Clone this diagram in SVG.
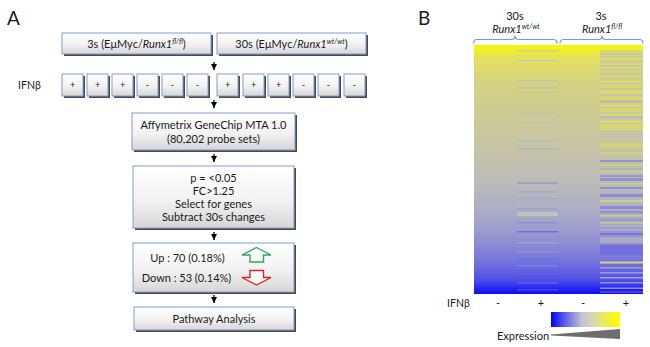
<svg xmlns="http://www.w3.org/2000/svg" width="650" height="347" viewBox="0 0 650 347">
<defs>
  <linearGradient id="boxfill" x1="0" y1="0" x2="0" y2="1">
    <stop offset="0" stop-color="#ffffff"/>
    <stop offset="0.55" stop-color="#f2f2f2"/>
    <stop offset="1" stop-color="#d6d6d6"/>
  </linearGradient>
  <linearGradient id="heat" x1="0" y1="0" x2="0" y2="1">
    <stop offset="0" stop-color="#f8f800"/>
    <stop offset="0.05" stop-color="#e4e25c"/>
    <stop offset="0.15" stop-color="#d4d282"/>
    <stop offset="0.35" stop-color="#c9c89e"/>
    <stop offset="0.55" stop-color="#bcbcb8"/>
    <stop offset="0.68" stop-color="#aaaac8"/>
    <stop offset="0.76" stop-color="#9898d0"/>
    <stop offset="0.86" stop-color="#7878da"/>
    <stop offset="0.94" stop-color="#5252e6"/>
    <stop offset="1" stop-color="#0c0cf8"/>
  </linearGradient>
  <linearGradient id="bar" x1="0" y1="0" x2="1" y2="0">
    <stop offset="0" stop-color="#0000ff"/>
    <stop offset="0.15" stop-color="#4848f0"/>
    <stop offset="0.45" stop-color="#c4c4d4"/>
    <stop offset="0.62" stop-color="#d8d8b0"/>
    <stop offset="0.85" stop-color="#f2f230"/>
    <stop offset="1" stop-color="#ffff00"/>
  </linearGradient>
  <marker id="ah" viewBox="0 0 6 6" refX="6" refY="3" markerWidth="6" markerHeight="6" markerUnits="userSpaceOnUse" orient="auto">
    <path d="M0,0 L6,3 L0,6 Z" fill="#000"/>
  </marker>
</defs>
<style>
  text { font-family: Lato, "Open Sans", "Liberation Sans", sans-serif; fill: #1a1a1a; }
  .t { font-size: 11px; text-anchor: middle; }
  .pm { font-size: 9px; text-anchor: middle; }
  .lbl { font-size: 19px; }
  .it { font-style: italic; }
  .sup { font-size: 7px; font-style: italic; }
  .sh { fill: #4a4a4a; }
  .bx { fill: url(#boxfill); stroke: #7f9fcf; stroke-width: 1; }
  .conn { stroke: #000; stroke-width: 1.3; fill: none; }
  .brk { stroke: #7a9ad6; stroke-width: 1.2; fill: none; }
</style>

<text class="lbl" x="7" y="25">A</text>
<text class="lbl" x="418" y="25">B</text>

<g id="connectors">
  <line class="conn" x1="214" y1="62" x2="214" y2="70" marker-end="url(#ah)"/>
  <line class="conn" x1="214" y1="100" x2="214" y2="108" marker-end="url(#ah)"/>
  <line class="conn" x1="214" y1="154" x2="214" y2="162" marker-end="url(#ah)"/>
  <line class="conn" x1="214" y1="232" x2="214" y2="240" marker-end="url(#ah)"/>
  <line class="conn" x1="214" y1="295" x2="214" y2="303" marker-end="url(#ah)"/>
</g>

<g id="box3s">
  <rect class="sh" x="64" y="35" width="149" height="21"/>
  <rect class="bx" x="62" y="33" width="149" height="21"/>
  <text class="t" x="136.5" y="47.5">3s (EμMyc/<tspan class="it">Runx1</tspan><tspan class="sup" dy="-4">fl/fl</tspan><tspan dy="4">)</tspan></text>
</g>
<g id="box30s">
  <rect class="sh" x="219" y="35" width="149" height="21"/>
  <rect class="bx" x="217" y="33" width="149" height="21"/>
  <text class="t" x="291.5" y="47.5">30s (EμMyc/<tspan class="it">Runx1</tspan><tspan class="sup" dy="-4">wt/wt</tspan><tspan dy="4">)</tspan></text>
</g>

<text x="18" y="89" style="font-size:10.5px">IFNβ</text>

<g id="ifn-row">
  <g id="s1"><rect class="sh" x="64" y="76" width="21" height="22"/><rect class="bx" x="62" y="74" width="21" height="22"/><text class="pm" x="72.5" y="88">+</text></g>
  <g id="s2"><rect class="sh" x="89" y="76" width="21" height="22"/><rect class="bx" x="87" y="74" width="21" height="22"/><text class="pm" x="97.5" y="88">+</text></g>
  <g id="s3"><rect class="sh" x="114" y="76" width="21" height="22"/><rect class="bx" x="112" y="74" width="21" height="22"/><text class="pm" x="122.5" y="88">+</text></g>
  <g id="s4"><rect class="sh" x="139" y="76" width="21" height="22"/><rect class="bx" x="137" y="74" width="21" height="22"/><text class="pm" x="147.5" y="88">-</text></g>
  <g id="s5"><rect class="sh" x="164" y="76" width="21" height="22"/><rect class="bx" x="162" y="74" width="21" height="22"/><text class="pm" x="172.5" y="88">-</text></g>
  <g id="s6"><rect class="sh" x="189" y="76" width="21" height="22"/><rect class="bx" x="187" y="74" width="21" height="22"/><text class="pm" x="197.5" y="88">-</text></g>
  <g id="s7"><rect class="sh" x="219" y="76" width="21" height="22"/><rect class="bx" x="217" y="74" width="21" height="22"/><text class="pm" x="227.5" y="88">+</text></g>
  <g id="s8"><rect class="sh" x="245" y="76" width="21" height="22"/><rect class="bx" x="243" y="74" width="21" height="22"/><text class="pm" x="253.5" y="88">+</text></g>
  <g id="s9"><rect class="sh" x="270" y="76" width="21" height="22"/><rect class="bx" x="268" y="74" width="21" height="22"/><text class="pm" x="278.5" y="88">+</text></g>
  <g id="s10"><rect class="sh" x="295" y="76" width="21" height="22"/><rect class="bx" x="293" y="74" width="21" height="22"/><text class="pm" x="303.5" y="88">-</text></g>
  <g id="s11"><rect class="sh" x="320" y="76" width="21" height="22"/><rect class="bx" x="318" y="74" width="21" height="22"/><text class="pm" x="328.5" y="88">-</text></g>
  <g id="s12"><rect class="sh" x="346" y="76" width="21" height="22"/><rect class="bx" x="344" y="74" width="21" height="22"/><text class="pm" x="354.5" y="88">-</text></g>
</g>

<g id="affy">
  <rect class="sh" x="134" y="115" width="163" height="37"/>
  <rect class="bx" x="132" y="113" width="163" height="37"/>
  <text class="t" x="213.5" y="129">Affymetrix GeneChip MTA 1.0</text>
  <text class="t" x="213.5" y="143">(80,202 probe sets)</text>
</g>

<g id="filter">
  <rect class="sh" x="135" y="168" width="161" height="62"/>
  <rect class="bx" x="133" y="166" width="161" height="62"/>
  <text class="t" x="213.5" y="182">p = &lt;0.05</text>
  <text class="t" x="213.5" y="195">FC&gt;1.25</text>
  <text class="t" x="213.5" y="208">Select for genes</text>
  <text class="t" x="213.5" y="221">Subtract 30s changes</text>
</g>

<g id="updown">
  <rect class="sh" x="135" y="245" width="161" height="49"/>
  <rect class="bx" x="133" y="243" width="161" height="49"/>
  <text class="t" x="187.5" y="262">Up : 70 (0.18%)</text>
  <text class="t" x="186.5" y="282">Down : 53 (0.14%)</text>
  <path d="M256.5,247.5 L271,255 L263.5,255 L263.5,262 L250,262 L250,255 L242,255 Z" fill="#fff" stroke="#2fa85a" stroke-width="1.4" stroke-linejoin="miter"/>
  <path d="M250,270.5 L263.5,270.5 L263.5,277.5 L271,277.5 L256.5,285 L242,277.5 L250,277.5 Z" fill="#fff" stroke="#e02424" stroke-width="1.4" stroke-linejoin="miter"/>
</g>

<g id="pathway">
  <rect class="sh" x="136" y="309" width="160" height="23"/>
  <rect class="bx" x="134" y="307" width="160" height="23"/>
  <text class="t" x="214" y="322.5">Pathway Analysis</text>
</g>

<!-- Panel B -->
<g id="header-30s">
  <text class="t" x="515" y="20">30s</text>
  <text class="t" x="516" y="33"><tspan class="it">Runx1</tspan><tspan class="sup" dy="-4">wt/wt</tspan></text>
  <path class="brk" d="M473.5,43.5 Q473.5,39.5 477,39.5 L511.5,39.5 Q515,39.5 515,35.5 Q515,39.5 518.5,39.5 L553.5,39.5 Q557,39.5 557,43.5"/>
</g>
<g id="header-3s">
  <text class="t" x="601" y="20">3s</text>
  <text class="t" x="602" y="33"><tspan class="it">Runx1</tspan><tspan class="sup" dy="-4">fl/fl</tspan></text>
  <path class="brk" d="M560,43.5 Q560,39.5 563.5,39.5 L598.5,39.5 Q602,39.5 602,35.5 Q602,39.5 605.5,39.5 L639.5,39.5 Q643,39.5 643,43.5"/>
</g>

<g id="heatmap">
  <rect x="474" y="45" width="169" height="249" fill="url(#heat)"/>
  <g id="col2">
    <rect x="517" y="50" width="41" height="1.5" fill="#d0cf96"/>
    <rect x="517" y="60" width="41" height="1.5" fill="#cbcb9e"/>
    <rect x="517" y="80" width="41" height="1.5" fill="#c4c4a8"/>
    <rect x="517" y="87" width="41" height="1.5" fill="#c6c6a6"/>
    <rect x="517" y="112" width="41" height="1.5" fill="#c2c2b0"/>
    <rect x="517" y="122" width="41" height="1.5" fill="#c2c2b0"/>
    <rect x="517" y="140" width="41" height="1.5" fill="#babac0"/>
    <rect x="517" y="148" width="41" height="1.5" fill="#b2b2c6"/>
    <rect x="517" y="157" width="41" height="1.5" fill="#c4c4b6"/>
    <rect x="517" y="182" width="41" height="2" fill="#a0a0d0"/>
    <rect x="517" y="191" width="41" height="1.5" fill="#aaaaca"/>
    <rect x="517" y="198" width="41" height="1.5" fill="#a8a8ca"/>
    <rect x="517" y="203" width="41" height="1.5" fill="#b4b4c4"/>
    <rect x="517" y="208" width="41" height="1.5" fill="#a2a2ce"/>
    <rect x="517" y="212" width="41" height="4" fill="#c2c2bc"/>
    <rect x="517" y="222" width="41" height="1.5" fill="#9090d2"/>
    <rect x="517" y="231" width="41" height="1.5" fill="#7070d8"/>
    <rect x="517" y="242" width="41" height="1.5" fill="#a0a0d4"/>
    <rect x="517" y="251" width="41" height="1.5" fill="#9090d6"/>
    <rect x="517" y="258" width="41" height="1.5" fill="#7272de"/>
    <rect x="517" y="265" width="41" height="1.5" fill="#8080de"/>
    <rect x="517" y="273" width="41" height="1.5" fill="#6060e6"/>
    <rect x="517" y="282" width="41" height="1.5" fill="#5e5ee6"/>
    <rect x="517" y="289" width="41" height="1.5" fill="#4444ee"/>
  </g>
  <g id="col4">
    <rect x="600" y="50" width="43" height="78" fill="#d8d86e"/>
    <rect x="600" y="53" width="43" height="1.5" fill="#c4c4b0"/>
    <rect x="600" y="56" width="43" height="1.5" fill="#c4c4b0"/>
    <rect x="600" y="61" width="43" height="1.5" fill="#c4c4b0"/>
    <rect x="600" y="65" width="43" height="1.5" fill="#c4c4b0"/>
    <rect x="600" y="69" width="43" height="1.5" fill="#c4c4b0"/>
    <rect x="600" y="73" width="43" height="2" fill="#c4c4b0"/>
    <rect x="600" y="78" width="43" height="1.5" fill="#c4c4b0"/>
    <rect x="600" y="83" width="43" height="1.5" fill="#c4c4b0"/>
    <rect x="600" y="88" width="43" height="1.5" fill="#c4c4b0"/>
    <rect x="600" y="94" width="43" height="2" fill="#c4c4b0"/>
    <rect x="600" y="100" width="43" height="3" fill="#bebeb8"/>
    <rect x="600" y="107" width="43" height="1.5" fill="#c4c4b0"/>
    <rect x="600" y="112" width="43" height="1.5" fill="#c4c4b0"/>
    <rect x="600" y="116" width="43" height="3.5" fill="#bcbcbc"/>
    <rect x="600" y="123" width="43" height="1.5" fill="#c4c4b0"/>
    <rect x="600" y="128" width="43" height="2" fill="#d6d672"/>
    <rect x="600" y="133" width="43" height="1.5" fill="#c0c0b4"/>
    <rect x="600" y="136" width="43" height="1.5" fill="#c0c0b4"/>
    <rect x="600" y="143" width="43" height="4.5" fill="#d4d476"/>
    <rect x="600" y="152" width="43" height="2" fill="#d2d27a"/>
    <rect x="600" y="160" width="43" height="2" fill="#9494d4"/>
    <rect x="600" y="164" width="43" height="2" fill="#d0d07c"/>
    <rect x="600" y="168" width="43" height="1.5" fill="#b0b0c4"/>
    <rect x="600" y="171" width="43" height="1.5" fill="#cccc84"/>
    <rect x="600" y="175" width="43" height="2" fill="#9898d2"/>
    <rect x="600" y="178" width="43" height="3" fill="#9090d4"/>
    <rect x="600" y="183" width="43" height="1.5" fill="#cccc84"/>
    <rect x="600" y="187" width="43" height="2" fill="#9090d4"/>
    <rect x="600" y="191" width="43" height="1.5" fill="#b4b4c0"/>
    <rect x="600" y="194" width="43" height="3" fill="#8c8cd6"/>
    <rect x="600" y="200" width="43" height="2" fill="#d0d07c"/>
    <rect x="600" y="203" width="43" height="1.5" fill="#b4b4c4"/>
    <rect x="600" y="206" width="43" height="3" fill="#8a8ad6"/>
    <rect x="600" y="211" width="43" height="2" fill="#9292d2"/>
    <rect x="600" y="215" width="43" height="1.5" fill="#d0d07c"/>
    <rect x="600" y="219" width="43" height="1.5" fill="#9898d2"/>
    <rect x="600" y="222" width="43" height="1.5" fill="#cccc82"/>
    <rect x="600" y="225" width="43" height="1.5" fill="#b4b4c4"/>
    <rect x="600" y="229" width="43" height="1.5" fill="#b0b0c4"/>
    <rect x="600" y="233" width="43" height="2" fill="#7676de"/>
    <rect x="600" y="237" width="43" height="6" fill="#ababc6"/>
    <rect x="600" y="245" width="43" height="10" fill="#7070de"/>
    <rect x="600" y="261.5" width="43" height="2" fill="#d6d674"/>
    <rect x="600" y="267" width="43" height="1.5" fill="#9e9ed0"/>
    <rect x="600" y="272" width="43" height="1.5" fill="#9e9ed0"/>
    <rect x="600" y="277" width="43" height="1.5" fill="#a4a4cc"/>
    <rect x="600" y="282" width="43" height="1.5" fill="#9090d4"/>
    <rect x="600" y="287.5" width="43" height="1.5" fill="#9090d4"/>
    <rect x="600" y="291.5" width="43" height="1" fill="#7070de"/>
  </g>
</g>

<g id="ifn-b">
  <text x="447" y="307" style="font-size:10.5px">IFNβ</text>
  <text class="t" x="498" y="307">-</text>
  <text class="t" x="541" y="307">+</text>
  <text class="t" x="583" y="307">-</text>
  <text class="t" x="626" y="307">+</text>
</g>

<g id="legend">
  <rect x="551" y="312" width="69" height="15" fill="url(#bar)"/>
  <text x="497" y="340" style="font-size:11px">Expression</text>
  <path d="M551,334.5 L620,329 L620,339 L551,335.5 Z" fill="#6e6e6e"/>
</g>
</svg>
